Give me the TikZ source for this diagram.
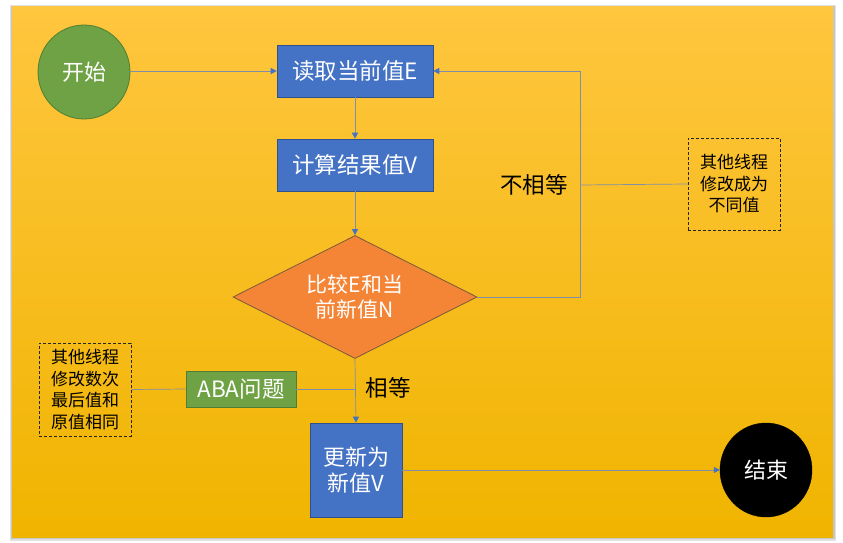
\documentclass[tikz,border=0pt]{standalone}
\usepackage{fontspec}
\newfontfamily\cjk{Noto Sans CJK SC}
\usetikzlibrary{shapes.geometric,arrows.meta}
\definecolor{bgtop}{HTML}{FFC63F}
\definecolor{bgbot}{HTML}{F0B400}
\definecolor{boxblue}{HTML}{4472C4}
\definecolor{boxblueb}{HTML}{2F528F}
\definecolor{sgreen}{HTML}{6FA245}
\definecolor{sgreenb}{HTML}{507E32}
\definecolor{dorange}{HTML}{F58536}
\definecolor{dorangeb}{HTML}{7A5A3A}
\definecolor{conn}{HTML}{7F8FA8}
\definecolor{tipblue}{HTML}{4472C4}
\tikzset{
  bluebox/.style={rectangle, fill=boxblue, draw=boxblueb, line width=0.6pt, text=white, font=\cjk\fontsize{22.5}{26.5}\selectfont, align=center, inner sep=0pt},
  ellbox/.style={ellipse, minimum width=92pt, minimum height=94pt, inner sep=0pt, text=white, font=\cjk\fontsize{22}{26}\selectfont},
  notebox/.style={rectangle, draw=black!85, dashed, dash pattern=on 3pt off 2pt, line width=0.8pt, align=center, font=\cjk\fontsize{17}{21.5}\selectfont, minimum width=92pt, inner sep=0pt},
  conline/.style={draw=conn, line width=0.7pt},
  arr/.style={conline, -{Triangle[length=6pt,width=6pt,fill=tipblue,color=tipblue]}},
  lbl/.style={font=\cjk\fontsize{22.5}{26}\selectfont, text=black, inner sep=0pt}
}
\begin{document}
\begin{tikzpicture}[x=1pt,y=-1pt]
\useasboundingbox (0,0) rectangle (843,543);
\fill[white] (0,0) rectangle (843,543);
% shadow and background
\fill[black!12] (10,5) rectangle (836,541);
\fill[black!22] (11,6) rectangle (835,539);
\shade[top color=bgtop, bottom color=bgbot] (12,7) rectangle (833,537);

% nodes
\node[ellbox, fill=sgreen, draw=sgreenb, line width=0.8pt] (start) at (84,72) {开始};
\node[bluebox, minimum width=156pt, minimum height=52pt] (read) at (355,71) {读取当前值E};
\node[bluebox, minimum width=156pt, minimum height=52pt] (calc) at (355,165) {计算结果值V};
\node[diamond, aspect=2, fill=dorange, draw=dorangeb, line width=0.8pt, minimum width=244pt, minimum height=123pt, inner sep=0pt, text=white, align=center, font=\cjk\fontsize{21}{25.5}\selectfont] (cmp) at (355,297) {比较E和当\\前新值N};
\node[bluebox, minimum width=92pt, minimum height=94pt, font=\cjk\fontsize{22}{26.5}\selectfont] (upd) at (356,470) {更新为\\新值V};
\node[ellbox, fill=black, draw=black] (end) at (766,470) {结束};
\node[rectangle, fill=sgreen, draw=sgreenb, line width=0.6pt, minimum width=110pt, minimum height=36pt, inner sep=0pt, text=white, font=\cjk\fontsize{22.5}{26}\selectfont] (aba) at (241,389) {ABA问题};
\node[notebox, minimum height=92pt] (note1) at (734,184) {其他线程\\修改成为\\不同值};
\node[notebox, minimum height=93pt] (note2) at (85,389.5) {其他线程\\修改数次\\最后值和\\原值相同};
\node[lbl] (neq) at (534,185) {不相等};
\node[lbl] (eq) at (388,388) {相等};

% connectors
\coordinate (rt) at (580,297);
\coordinate (j1) at (580,185);
\coordinate (j2) at (356,389);
\draw[arr] (start.east |- read.west) -- (read.west);
\draw[arr] (read) -- (calc);
\draw[arr] (calc) -- (cmp.north);
\draw[arr] (cmp.east) -- (rt) |- (read.east);
\draw[conline] (j1) -- (note1.west);
\draw[arr] (cmp.south) -- (upd.north);
\draw[conline] (aba.east) -- (j2);
\draw[conline] (aba.west) -- (note2.east);
\draw[arr] (upd.east) -- (end.west);
\end{tikzpicture}
\end{document}
